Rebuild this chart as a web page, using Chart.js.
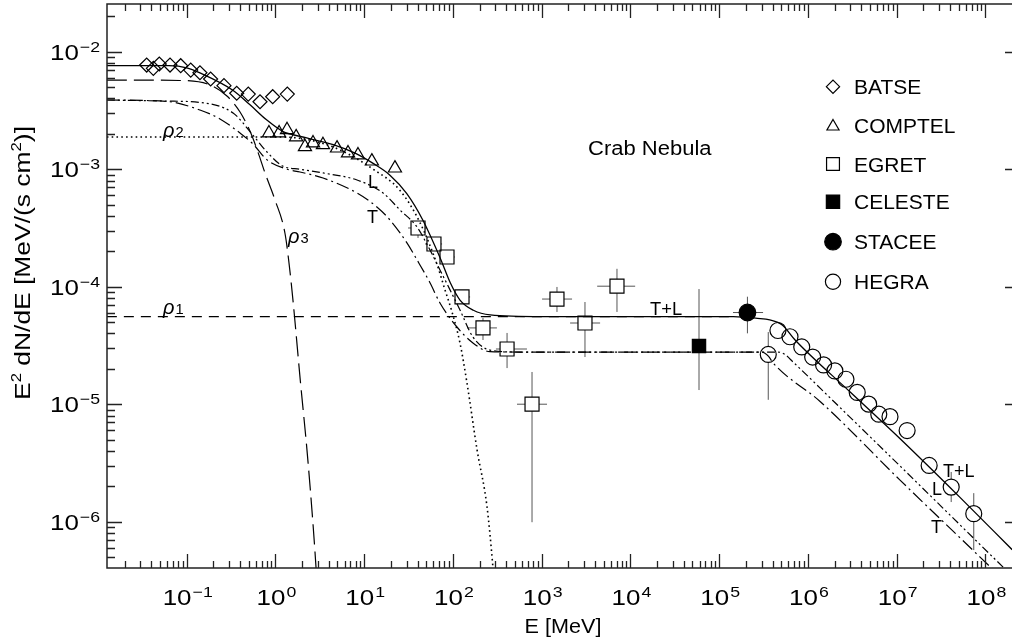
<!DOCTYPE html>
<html>
<head>
<meta charset="utf-8">
<script src="https://cdn.jsdelivr.net/npm/chart.js@4.4.1/dist/chart.umd.min.js"></script>
<style>
  html, body { margin: 0; padding: 0; background: #fff; }
  #wrap { width: 1012px; height: 639px; }
</style>
</head>
<body>
<div id="wrap"><canvas id="c"></canvas></div>
<script>
// E in MeV, flux is E^2 dN/dE in MeV/(s cm^2)

// model curves
const totalE = [0.0126, 0.063, 0.1, 0.141, 0.331, 0.513, 0.794, 1.22, 1.91, 4.47, 7.9, 12.6, 19.5, 30.2, 45.7, 70.8, 93.3, 120, 170, 263, 1000, 1.44e5, 2.69e5, 3.72e5, 5.13e5, 7.16e5, 2.99e6, 1.10e7, 5.13e7, 2.0e8];
const totalF = [7.6e-3, 7.6e-3, 7.3e-3, 6.6e-3, 4.7e-3, 3.55e-3, 2.63e-3, 2.09e-3, 1.90e-3, 1.62e-3, 1.37e-3, 1.12e-3, 8.9e-4, 6.2e-4, 3.7e-4, 1.8e-4, 1.08e-4, 7.7e-5, 6.3e-5, 5.75e-5, 5.56e-5, 5.56e-5, 5.38e-5, 5.21e-5, 4.72e-5, 3.52e-5, 1.27e-5, 5.06e-6, 1.62e-6, 5.78e-7];

const rho1E = [0.0126, 1.44e5];
const rho1F = [5.56e-5, 5.56e-5];

const rho2E = [0.0126, 1.12, 2.45, 5.33, 12.6, 25.3, 42.6, 66.1, 81.3, 97.5, 120, 144, 187, 242, 282, 314];
const rho2F = [1.88e-3, 1.88e-3, 1.77e-3, 1.46e-3, 1.0e-3, 6.6e-4, 3.5e-4, 1.55e-4, 9.4e-5, 6.1e-5, 3.32e-5, 1.51e-5, 4.08e-6, 1.34e-6, 4.1e-7, 1.4e-7];

const rho3E = [0.0126, 0.0841, 0.183, 0.284, 0.399, 0.516, 0.635, 0.762, 0.989, 1.28, 1.42, 1.58, 1.89, 2.33, 2.87, 3.18];
const rho3F = [5.74e-3, 5.69e-3, 5.21e-3, 4.20e-3, 3.07e-3, 2.11e-3, 1.40e-3, 9.3e-4, 5.47e-4, 2.85e-4, 1.6e-4, 7.5e-5, 1.7e-5, 3.2e-6, 4.0e-7, 1.0e-7];

const lE = [0.0126, 0.060, 0.141, 0.333, 0.558, 0.804, 1.22, 1.89, 3.44, 8.30, 16.3, 25.3, 39.4, 55.1, 71.4, 92.7, 120, 168, 261, 569, 4.59e5, 5.5e5, 6.78e5, 1.87e6, 1.09e7, 1.58e8, 2.0e8];
const lF = [3.88e-3, 3.80e-3, 3.70e-3, 3.01e-3, 1.95e-3, 1.40e-3, 1.06e-3, 1.00e-3, 9.29e-4, 8.09e-4, 6.27e-4, 4.50e-4, 3.22e-4, 2.05e-4, 1.39e-4, 9.4e-5, 6.34e-5, 3.73e-5, 2.89e-5, 2.78e-5, 2.78e-5, 2.65e-5, 2.29e-5, 1.09e-5, 2.98e-6, 4.11e-7, 3.46e-7];

const tE = [0.0126, 0.060, 0.141, 0.237, 0.399, 0.558, 0.804, 1.35, 1.89, 3.44, 8.30, 13.9, 19.5, 30.3, 39.4, 55.1, 71.4, 111, 168, 261, 569, 3.05e5, 3.6e5, 4.06e5, 1.38e6, 1.09e7, 8.69e7, 2.0e8];
const tF = [3.88e-3, 3.77e-3, 3.19e-3, 2.68e-3, 2.03e-3, 1.64e-3, 1.20e-3, 1.00e-3, 9.46e-4, 8.41e-4, 6.27e-4, 4.77e-4, 3.70e-4, 2.36e-4, 1.69e-4, 1.08e-4, 7.27e-5, 4.54e-5, 3.32e-5, 2.80e-5, 2.78e-5, 2.78e-5, 2.55e-5, 2.24e-5, 1.05e-5, 2.26e-6, 5.0e-7, 2.73e-7];

// measurements
const batseE = [0.0354, 0.0421, 0.0491, 0.0649, 0.0856, 0.111, 0.141, 0.186, 0.263, 0.366, 0.494, 0.670, 0.931, 1.36];
const batseF = [7.70e-3, 7.22e-3, 7.86e-3, 7.70e-3, 7.60e-3, 6.98e-3, 6.62e-3, 5.86e-3, 5.14e-3, 4.43e-3, 4.36e-3, 3.75e-3, 4.14e-3, 4.36e-3];

const comptelE = [0.845, 1.10, 1.35, 1.71, 2.15, 2.65, 3.43, 4.94, 6.57, 8.51, 12.2, 22.2];
const comptelF = [2.03e-3, 2.03e-3, 2.16e-3, 1.88e-3, 1.55e-3, 1.67e-3, 1.61e-3, 1.51e-3, 1.37e-3, 1.32e-3, 1.17e-3, 1.02e-3];

const egretE = [40.4, 61.1, 85.7, 126.5, 218, 407, 778, 1486, 3073, 7050];
const egretF = [3.16e-4, 2.31e-4, 1.79e-4, 8.18e-5, 4.46e-5, 2.95e-5, 1.00e-5, 7.85e-5, 4.91e-5, 1.01e-4];
const egretElo = [31.2, 48.5, 71.4, 105, 144, 305, 527, 1009, 2089, 4217];
const egretEhi = [51.1, 75.4, 105, 156, 313, 682, 1148, 2198, 4550, 11300];
const egretFlo = [2.60e-4, 2.05e-4, 1.56e-4, 7.27e-5, 3.52e-5, 2.03e-5, 9.9e-7, 6.10e-5, 2.52e-5, 6.10e-5];
const egretFhi = [3.56e-4, 2.60e-4, 2.05e-4, 9.38e-5, 5.42e-5, 4.04e-5, 1.88e-5, 9.95e-5, 7.41e-5, 1.42e-4];

const celesteE = [5.92e4];
const celesteF = [3.13e-5];
const celesteFlo = [1.32e-5];
const celesteFhi = [9.55e-5];

const staceeE = [2.08e5];
const staceeF = [6.03e-5];
const staceeElo = [1.43e5];
const staceeEhi = [3.12e5];
const staceeFlo = [4.01e-5];
const staceeFhi = [8.22e-5];

const hegraE = [3.57e5, 4.59e5, 6.27e5, 8.51e5, 1.13e6, 1.50e6, 2.01e6, 2.68e6, 3.59e6, 4.83e6, 6.28e6, 8.40e6, 1.31e7, 2.32e7, 4.11e7, 7.38e7];
const hegraF = [2.65e-5, 4.24e-5, 3.75e-5, 3.07e-5, 2.52e-5, 2.16e-5, 1.92e-5, 1.63e-5, 1.26e-5, 1.00e-5, 8.22e-6, 7.83e-6, 5.97e-6, 3.01e-6, 1.97e-6, 1.17e-6];
const hegraErrE = [3.57e5, 4.11e7, 7.38e7];
const hegraErrF = [2.65e-5, 1.97e-6, 1.17e-6];
const hegraErrLo = [1.09e-5, 1.47e-6, 5.74e-7];
const hegraErrHi = [4.11e-5, 2.65e-6, 1.75e-6];

const xTickExps = [-1, 0, 1, 2, 3, 4, 5, 6, 7, 8];
const yTickExps = [-2, -3, -4, -5, -6];

const legendNames = ['BATSE', 'COMPTEL', 'EGRET', 'CELESTE', 'STACEE', 'HEGRA'];

const FONT = '"Liberation Sans", Arial, Helvetica, sans-serif';

function pts(xs, ys) {
  return xs.map((v, i) => ({ x: v, y: ys[i] }));
}

function curve(label, xs, ys, dash, width) {
  return {
    label, data: pts(xs, ys), showLine: true, pointRadius: 0, pointHoverRadius: 0,
    borderColor: '#000', borderWidth: width || 1.2, borderDash: dash || [],
    cubicInterpolationMode: 'monotone', fill: false, clip: 0, order: 0
  };
}

function marks(label, xs, ys, style, r, filled, rot) {
  return {
    label, data: pts(xs, ys), showLine: false, pointStyle: style, pointRadius: r,
    pointHoverRadius: r, pointRotation: rot || 0,
    backgroundColor: filled ? '#000' : 'rgba(255,255,255,0)',
    borderColor: '#000', pointBorderWidth: 1.2, borderWidth: 1.2, clip: 0, order: 1
  };
}

const datasets = [
  curve('T+L', totalE, totalF, [], 1.3),
  curve('rho1', rho1E, rho1F, [10, 7]),
  curve('rho2', rho2E, rho2F, [1.6, 3.2], 1.6),
  curve('rho3', rho3E, rho3F, [20, 7]),
  curve('L', lE, lF, [8, 3, 2, 3, 2, 3]),
  curve('T', tE, tF, [13, 4, 2, 4]),
  marks('BATSE', batseE, batseF, 'rectRot', 7, false),
  marks('COMPTEL', comptelE, comptelF, 'triangle', 7.6, false),
  marks('EGRET', egretE, egretF, 'rect', 9.9, false),
  marks('CELESTE', celesteE, celesteF, 'rect', 9.4, true),
  marks('STACEE', staceeE, staceeF, 'circle', 8.3, true),
  marks('HEGRA', hegraE, hegraF, 'circle', 8, false)
];

// error bars, drawn with gaps where the open symbol sits
const errGroups = [
  { E: egretE, F: egretF, Elo: egretElo, Ehi: egretEhi, Flo: egretFlo, Fhi: egretFhi, gap: 7 },
  { E: celesteE, F: celesteF, Flo: celesteFlo, Fhi: celesteFhi, gap: 6.6 },
  { E: staceeE, F: staceeF, Elo: staceeElo, Ehi: staceeEhi, Flo: staceeFlo, Fhi: staceeFhi, gap: 8.3 },
  { E: hegraErrE, F: hegraErrF, Flo: hegraErrLo, Fhi: hegraErrHi, gap: 8 }
];

const errorBars = {
  id: 'errorBars',
  beforeDatasetsDraw(chart) {
    const { ctx, chartArea: a, scales: { x, y } } = chart;
    ctx.save();
    ctx.beginPath();
    ctx.rect(a.left, a.top, a.right - a.left, a.bottom - a.top);
    ctx.clip();
    ctx.strokeStyle = '#555';
    ctx.lineWidth = 1;
    errGroups.forEach(g => {
      g.E.forEach((e, i) => {
        const px = x.getPixelForValue(e);
        const py = y.getPixelForValue(g.F[i]);
        ctx.beginPath();
        if (g.Elo) {
          const l = x.getPixelForValue(g.Elo[i]);
          const r = x.getPixelForValue(g.Ehi[i]);
          if (l < px - g.gap) { ctx.moveTo(l, py); ctx.lineTo(px - g.gap, py); }
          if (r > px + g.gap) { ctx.moveTo(px + g.gap, py); ctx.lineTo(r, py); }
        }
        if (g.Flo) {
          const t = y.getPixelForValue(g.Fhi[i]);
          const b = y.getPixelForValue(g.Flo[i]);
          if (t < py - g.gap) { ctx.moveTo(px, t); ctx.lineTo(px, py - g.gap); }
          if (b > py + g.gap) { ctx.moveTo(px, py + g.gap); ctx.lineTo(px, b); }
        }
        ctx.stroke();
      });
    });
    ctx.restore();
  }
};

function stretched(ctx, s, x, y, font, sx) {
  ctx.save();
  ctx.translate(x, y);
  ctx.scale(sx, 1);
  ctx.font = font;
  ctx.fillText(s, 0, 0);
  ctx.restore();
}

function powLabel(ctx, exp, x, y, align) {
  const big = '22px ' + FONT, small = '15px ' + FONT, sx = 1.18;
  const sup = exp < 0 ? '\u2212' + (-exp) : String(exp);
  ctx.font = big;
  const w1 = ctx.measureText('10').width * sx;
  ctx.font = small;
  const w2 = ctx.measureText(sup).width * sx;
  const total = w1 + 1 + w2;
  const x0 = align === 'right' ? x - total : x - total / 2;
  stretched(ctx, '10', x0, y, big, sx);
  stretched(ctx, sup, x0 + w1 + 1, y - 7.8, small, sx);
}

function drawSymbol(ctx, style, r, filled, x, y) {
  ctx.save();
  ctx.fillStyle = filled ? '#000' : 'rgba(255,255,255,0)';
  ctx.strokeStyle = '#000';
  ctx.lineWidth = 1.2;
  Chart.helpers.drawPoint(ctx, { pointStyle: style, radius: r, rotation: 0, borderWidth: 1.2 }, x, y);
  ctx.restore();
}

const decor = {
  id: 'decor',
  afterDraw(chart) {
    const { ctx, chartArea: a, scales: { x, y } } = chart;
    ctx.save();

    // frame
    ctx.strokeStyle = '#222';
    ctx.lineWidth = 1.5;
    ctx.beginPath();
    ctx.moveTo(a.right + 2, a.top);
    ctx.lineTo(a.left, a.top);
    ctx.lineTo(a.left, a.bottom);
    ctx.lineTo(a.right + 2, a.bottom);
    ctx.stroke();

    // inward ticks on all sides
    ctx.lineWidth = 1.3;
    ctx.beginPath();
    for (let e = -2; e <= 8; e++) {
      for (let k = 1; k <= 9; k++) {
        const v = k * Math.pow(10, e);
        if (v >= x.min && v <= x.max) {
          const px = Math.round(x.getPixelForValue(v)) + 0.5;
          const len = k === 1 ? 14 : 7;
          ctx.moveTo(px, a.bottom); ctx.lineTo(px, a.bottom - len);
          ctx.moveTo(px, a.top); ctx.lineTo(px, a.top + len);
        }
      }
    }
    for (let e = -7; e <= -1; e++) {
      for (let k = 1; k <= 9; k++) {
        const v = k * Math.pow(10, e);
        if (v >= y.min && v <= y.max) {
          const py = Math.round(y.getPixelForValue(v)) + 0.5;
          const len = k === 1 ? 15 : 8;
          ctx.moveTo(a.left, py); ctx.lineTo(a.left + len, py);
          if (k === 1) { ctx.moveTo(a.right, py); ctx.lineTo(a.right - 7, py); }
        }
      }
    }
    ctx.stroke();

    // tick labels
    ctx.fillStyle = '#000';
    ctx.textAlign = 'left';
    ctx.textBaseline = 'alphabetic';
    xTickExps.forEach(e => powLabel(ctx, e, x.getPixelForValue(Math.pow(10, e)) + 1, 605, 'center'));
    yTickExps.forEach(e => powLabel(ctx, e, 100, y.getPixelForValue(Math.pow(10, e)) + 8, 'right'));

    // axis titles
    ctx.font = '20px ' + FONT;
    const xt = 'E [MeV]';
    const xw = ctx.measureText(xt).width * 1.08;
    stretched(ctx, xt, 563 - xw / 2, 633, '20px ' + FONT, 1.08);

    const parts = [
      ['E', 0], ['2', 1], [' dN/dE [MeV/(s cm', 0], ['2', 1], [')]', 0]
    ];
    const bigF = '22px ' + FONT, supF = '14px ' + FONT, sy = 1.2;
    let tw = 0;
    parts.forEach(p => { ctx.font = p[1] ? supF : bigF; tw += ctx.measureText(p[0]).width * sy; });
    ctx.save();
    ctx.translate(29.5, 263);
    ctx.rotate(-Math.PI / 2);
    let cx = -tw / 2;
    parts.forEach(p => {
      const f = p[1] ? supF : bigF;
      ctx.font = f;
      const w = ctx.measureText(p[0]).width * sy;
      stretched(ctx, p[0], cx, p[1] ? -9 : 0, f, sy);
      cx += w;
    });
    ctx.restore();

    // annotations
    stretched(ctx, 'Crab Nebula', 588, 155, '20px ' + FONT, 1.1);
    const lab = '18px ' + FONT;
    stretched(ctx, 'T+L', 650, 315, lab, 1.02);
    stretched(ctx, 'L', 368, 188, lab, 1.0);
    stretched(ctx, 'T', 367, 223, lab, 1.0);
    stretched(ctx, 'T+L', 943, 477, lab, 1.0);
    stretched(ctx, 'L', 932, 495, lab, 1.0);
    stretched(ctx, 'T', 931, 533, lab, 1.0);

    const rho = 'italic 20px ' + FONT, sub = '14px ' + FONT;
    [['2', 163, 136.5], ['1', 163, 313.5], ['3', 288, 242.5]].forEach(r => {
      stretched(ctx, '\u03c1', r[1], r[2], rho, 1.0);
      stretched(ctx, r[0], r[1] + 12.5, r[2] + 0.5, sub, 1.05);
    });

    // legend
    const rows = [86.7, 125, 164, 201.7, 241.7, 281.7];
    const syms = [['rectRot', 6.6, false], ['triangle', 7, false], ['rect', 9.1, false],
                  ['rect', 9.4, true], ['circle', 8.3, true], ['circle', 7.6, false]];
    legendNames.forEach((n, i) => {
      const dy = syms[i][0] === 'triangle' ? 1.5 : 0;
      drawSymbol(ctx, syms[i][0], syms[i][1], syms[i][2], 833, rows[i] + dy);
      stretched(ctx, n, 854, rows[i] + 7.5, '20px ' + FONT, 1.05);
    });

    ctx.restore();
  }
};

new Chart(document.getElementById('c'), {
  type: 'scatter',
  data: { datasets },
  options: {
    responsive: true,
    maintainAspectRatio: false,
    animation: false,
    devicePixelRatio: 1,
    layout: { autoPadding: false, padding: { left: 107, right: 0, top: 4, bottom: 71 } },
    plugins: { legend: { display: false }, tooltip: { enabled: false } },
    events: [],
    scales: {
      x: { type: 'logarithmic', display: false, min: Math.pow(10, -1.898), max: Math.pow(10, 8.299) },
      y: { type: 'logarithmic', display: false, min: Math.pow(10, -6.394), max: Math.pow(10, -1.594) }
    }
  },
  plugins: [errorBars, decor]
});
</script>
</body>
</html>
